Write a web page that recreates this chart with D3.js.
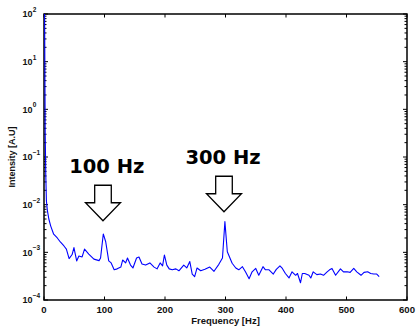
<!DOCTYPE html>
<html>
<head>
<meta charset="utf-8">
<script src="https://cdn.jsdelivr.net/npm/d3@7"></script>
<style>
  html, body { margin: 0; padding: 0; background: #fff; }
  svg { display: block; }
</style>
</head>
<body>
<div id="chart"></div>
<script>
// spectrum (frequency in Hz, intensity in A.U)
const freqHz = [0, 1, 2, 3, 4.5, 7, 10, 15, 21, 26, 32, 36, 40.5, 45.5, 48.5, 53, 56.7, 62, 66, 73,
  81.5, 90, 92.5, 97, 101, 106, 110, 115, 120, 126, 129, 134, 137, 142, 146, 152, 156, 161, 167, 174,
  181, 186, 191, 195, 198, 202, 206, 211, 217, 222, 230, 235, 240, 244, 248, 252, 258, 265, 273, 280,
  288, 294, 298, 302, 310, 316, 321, 327, 332, 338, 343, 349, 354, 361, 365, 371, 378, 383, 389, 393,
  398, 404, 409, 415, 418, 423, 426, 430, 437, 440, 444, 450, 456, 461, 467, 471, 475, 481, 489, 494,
  500, 505, 511, 516, 523, 528, 534, 539, 544, 549, 553];
const intensity = [100, 0.3, 0.04, 0.012, 7.7e-3, 5.0e-3, 3.6e-3, 2.4e-3, 2.0e-3, 1.65e-3, 1.36e-3, 1.17e-3, 7.4e-4, 9.0e-4, 1.26e-3, 6.6e-4, 8.4e-4, 8.0e-4, 1.17e-3, 9.2e-4,
  7.2e-4, 6.7e-4, 7.6e-4, 2.43e-3, 1.67e-3, 6.6e-4, 6.0e-4, 4.3e-4, 4.5e-4, 4.9e-4, 6.9e-4, 6.0e-4, 7.6e-4, 5.4e-4, 4.7e-4, 7.6e-4, 8.0e-4, 5.7e-4, 5.4e-4, 6.0e-4,
  4.9e-4, 4.5e-4, 6.0e-4, 5.2e-4, 8.8e-4, 5.4e-4, 4.5e-4, 4.3e-4, 4.5e-4, 4.1e-4, 5.4e-4, 4.7e-4, 6.4e-4, 3.5e-4, 3.1e-4, 4.7e-4, 4.1e-4, 4.4e-4, 4.9e-4, 4.0e-4,
  5.6e-4, 7.6e-4, 4.4e-3, 1.03e-3, 5.9e-4, 4.7e-4, 4.3e-4, 5.0e-4, 3.9e-4, 2.8e-4, 3.9e-4, 4.6e-4, 3.3e-4, 5.0e-4, 4.3e-4, 4.3e-4, 3.5e-4, 4.4e-4, 5.2e-4, 4.6e-4,
  3.6e-4, 2.9e-4, 3.9e-4, 3.3e-4, 3.6e-4, 2.3e-4, 3.6e-4, 3.6e-4, 3.3e-4, 2.9e-4, 3.9e-4, 3.4e-4, 3.5e-4, 3.3e-4, 3.9e-4, 4.3e-4, 4.6e-4, 3.3e-4, 4.5e-4, 3.9e-4,
  3.9e-4, 3.8e-4, 4.6e-4, 3.9e-4, 3.3e-4, 3.8e-4, 3.9e-4, 3.6e-4, 3.5e-4, 3.5e-4, 3.1e-4];

const xTicks = [0, 100, 200, 300, 400, 500, 600];
const yExponents = [-4, -3, -2, -1, 0, 1, 2];

// annotations: label text, label anchor and arrow tip (data coords)
const noteText = ["100 Hz", "300 Hz"];
const noteLabelFreq = [103.8, 295.9];
const noteLabelVal = [0.0455, 0.0713];
const arrowFreq = [97.5, 297.5];
const arrowTipVal = [4.6e-3, 7.1e-3];

const W = 416, H = 328;
const margin = { top: 14, right: 9, bottom: 28, left: 44 };
const iw = W - margin.left - margin.right;
const ih = H - margin.top - margin.bottom;

const svg = d3.select("#chart").append("svg")
    .attr("width", W)
    .attr("height", H);

const g = svg.append("g")
    .attr("transform", `translate(${margin.left},${margin.top})`);

const x = d3.scaleLinear().domain([0, 600]).range([0, iw]);
const y = d3.scaleLog().domain([1e-4, 1e2]).range([ih, 0]);

g.append("clipPath").attr("id", "clip")
    .append("rect").attr("x", -1).attr("width", iw + 1).attr("height", ih);

// frame first, data drawn over it (matlab layer bottom)
g.append("rect")
    .attr("width", iw).attr("height", ih)
    .attr("fill", "none")
    .attr("stroke", "#000")
    .attr("stroke-width", 1.5);

// ticks (matlab style, inward, on all four sides)
const tickFont = "'Liberation Sans', Arial, Helvetica, sans-serif";
const axisG = g.append("g").attr("stroke", "#000").attr("stroke-width", 1);

xTicks.forEach(t => {
    axisG.append("line").attr("x1", x(t)).attr("x2", x(t)).attr("y1", ih).attr("y2", ih - 3.5);
    axisG.append("line").attr("x1", x(t)).attr("x2", x(t)).attr("y1", 0).attr("y2", 3.5);
});

const minorVals = [];
yExponents.forEach(e => {
    if (e < 2) for (let m = 2; m <= 9; m++) minorVals.push(m * Math.pow(10, e));
});
yExponents.forEach(e => {
    const yy = y(Math.pow(10, e));
    axisG.append("line").attr("x1", 0).attr("x2", 4).attr("y1", yy).attr("y2", yy);
    axisG.append("line").attr("x1", iw).attr("x2", iw - 4).attr("y1", yy).attr("y2", yy);
});
minorVals.forEach(v => {
    const yy = y(v);
    axisG.append("line").attr("x1", 0).attr("x2", 2.5).attr("y1", yy).attr("y2", yy);
    axisG.append("line").attr("x1", iw).attr("x2", iw - 2.5).attr("y1", yy).attr("y2", yy);
});

// spectrum line
const data = freqHz.map((f, i) => ({ f: f, v: intensity[i] }));
const line = d3.line().x(d => x(d.f) + 0.6).y(d => y(d.v));

g.append("path")
    .datum(data)
    .attr("clip-path", "url(#clip)")
    .attr("fill", "none")
    .attr("stroke", "#0000ff")
    .attr("stroke-width", 1.1)
    .attr("stroke-linejoin", "round")
    .attr("d", line);

// tick labels
g.selectAll(".xlab").data(xTicks).enter().append("text")
    .attr("x", d => x(d))
    .attr("y", ih + 12.5)
    .attr("text-anchor", "middle")
    .style("font-family", tickFont)
    .style("font-weight", "bold")
    .style("font-size", "9.6px")
    .attr("fill", "#111")
    .text(d => d);

yExponents.forEach(e => {
    const yy = y(Math.pow(10, e));
    g.append("text")
        .attr("x", -11.5)
        .attr("y", yy + 3.3)
        .attr("text-anchor", "end")
        .style("font-family", tickFont)
        .style("font-weight", "bold")
        .style("font-size", "9px")
        .attr("fill", "#111")
        .text("10");
    g.append("text")
        .attr("x", -11.3)
        .attr("y", yy - 2)
        .style("font-family", tickFont)
        .style("font-weight", "bold")
        .style("font-size", "6.5px")
        .attr("fill", "#111")
        .text(e < 0 ? "\u2212" + Math.abs(e) : String(e));
});

// axis titles
svg.append("text")
    .attr("x", margin.left + iw / 2)
    .attr("y", 324)
    .attr("text-anchor", "middle")
    .style("font-family", tickFont)
    .style("font-weight", "bold")
    .style("font-size", "9.5px")
    .attr("fill", "#111")
    .text("Frequency [Hz]");

svg.append("text")
    .attr("transform", `translate(14.5,${margin.top + ih / 2}) rotate(-90)`)
    .attr("text-anchor", "middle")
    .style("font-family", tickFont)
    .style("font-weight", "bold")
    .style("font-size", "9px")
    .attr("fill", "#111")
    .text("Intensity [A.U]");

// arrows + labels
const arrowH = 35.5, headH = 18, shaftW = 8.3, headW = 17.5;
noteText.forEach((txt, i) => {
    const cx = x(arrowFreq[i]);
    const ty = y(arrowTipVal[i]);
    const top = ty - arrowH, neck = ty - headH;
    const pts = [
        [cx - shaftW, top], [cx + shaftW, top], [cx + shaftW, neck], [cx + headW, neck],
        [cx, ty], [cx - headW, neck], [cx - shaftW, neck]
    ];
    g.append("path")
        .attr("d", "M" + pts.map(p => p.join(",")).join("L") + "Z")
        .attr("fill", "#fff")
        .attr("stroke", "#000")
        .attr("stroke-width", 1.3)
        .attr("stroke-linejoin", "miter");

    g.append("text")
        .attr("x", x(noteLabelFreq[i]))
        .attr("y", y(noteLabelVal[i]))
        .attr("text-anchor", "middle")
        .style("font-family", "'DejaVu Sans', sans-serif")
        .style("font-weight", "bold")
        .style("font-size", "19.5px")
        .attr("fill", "#000")
        .text(txt);
});
</script>
</body>
</html>
